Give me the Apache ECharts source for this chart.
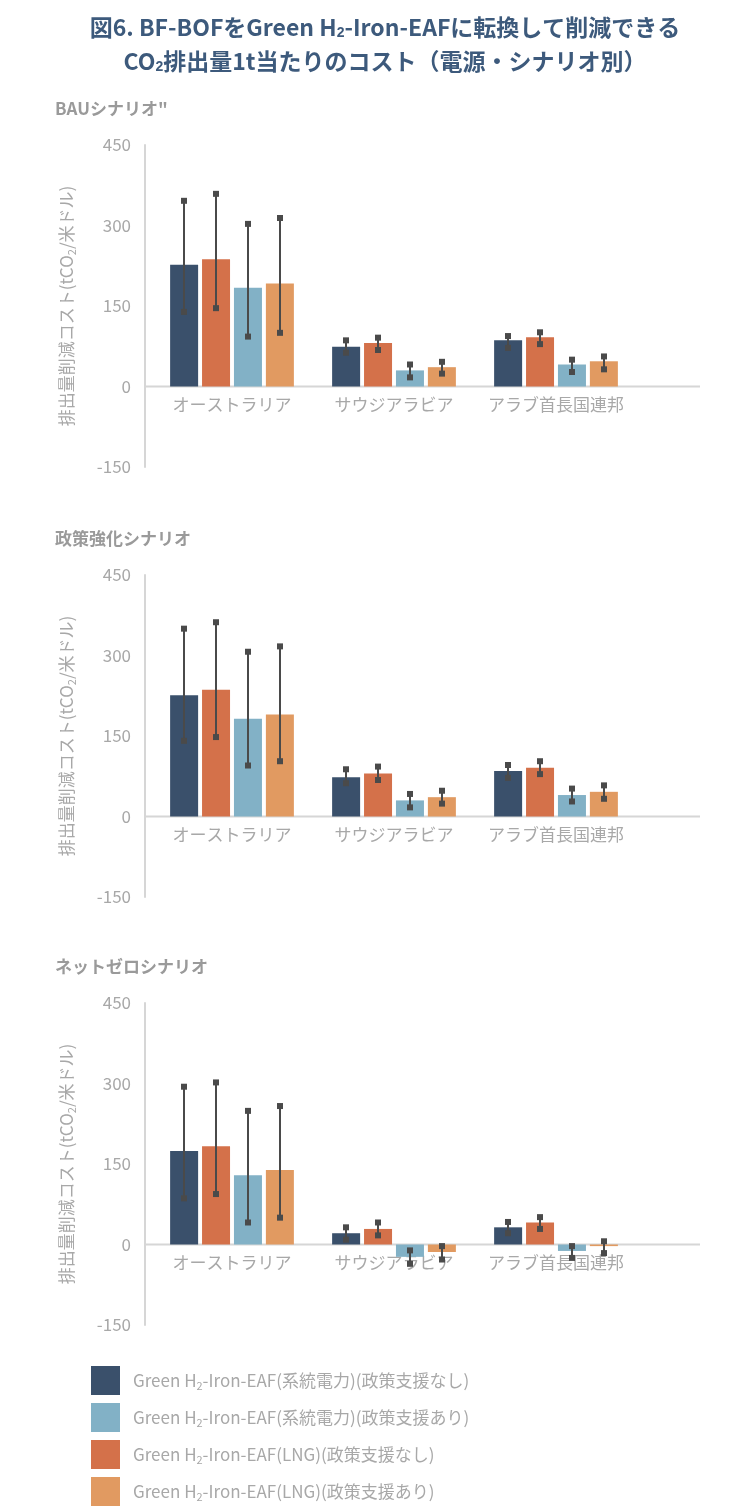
<!DOCTYPE html>
<html><head><meta charset="utf-8">
<script src="https://cdn.jsdelivr.net/npm/echarts@6/dist/echarts.min.js"></script>
<style>html,body{margin:0;background:#fff}#c{width:738px;height:1510px}</style>
</head><body><div id="c"></div>
<script>
const categories = ['オーストラリア', 'サウジアラビア', 'アラブ首長国連邦']
const scenarios = ['BAUシナリオ"', '政策強化シナリオ', 'ネットゼロシナリオ']
const yTicks = [-150, 0, 150, 300, 450]
const seriesNames = [
  '系統電力)(政策支援なし)', 'LNG)(政策支援なし)', '系統電力)(政策支援あり)', 'LNG)(政策支援あり)'
]
const colors = ['#3a506b', '#d4714a', '#82b1c6', '#e19a61']
// values[scenario][series][category]
const values = [
  [[227, 74, 86], [237, 81, 92], [184, 30, 41], [192, 36, 47]],
  [[226, 73, 85], [236, 80, 91], [182, 30, 40], [190, 36, 46]],
  [[174, 21, 32], [183, 29, 41], [129, -23, -12], [139, -14, -3]]
]
const highs = [
  [[346, 86, 94], [359, 91, 101], [303, 41, 50], [314, 46, 56]],
  [[350, 88, 96], [362, 93, 103], [307, 42, 52], [317, 48, 58]],
  [[294, 32, 42], [302, 41, 51], [249, -11, -3], [258, -3, 6]]
]
const lows = [
  [[139, 63, 72], [146, 68, 79], [93, 17, 27], [100, 24, 32]],
  [[141, 62, 72], [148, 68, 79], [95, 17, 28], [103, 24, 33]],
  [[86, 9, 21], [94, 17, 29], [41, -36, -25], [50, -28, -16]]
]

const gridTops = [145, 575, 1003]
const gridH = 322
const gray = '#a8a8a8'
const barW = 28, step = 32

const grid = [], xAxis = [], yAxis = [], series = [], graphic = []
scenarios.forEach((s, k) => {
  grid.push({ left: 151, right: 101, top: gridTops[k], height: gridH })
  xAxis.push({
    gridIndex: k, type: 'category', data: categories,
    axisLine: { show: false }, axisTick: { show: false }, axisLabel: { show: false }
  })
  yAxis.push({
    gridIndex: k, type: 'value', min: yTicks[0], max: yTicks[yTicks.length - 1], interval: 150, offset: 6,
    axisLine: { show: true, lineStyle: { color: '#d6d6d6', width: 2 } },
    splitLine: { show: false },
    axisLabel: { color: gray, fontSize: 17, margin: 14 },
    name: '排出量削減コスト(tCO{s|2}/米ドル)', nameLocation: 'middle', nameGap: 68, nameRotate: 90,
    nameTextStyle: { color: gray, fontSize: 17, rich: { s: { fontSize: 11, color: gray, padding: [10, 0, 0, 0] } } }
  })
  graphic.push({ type: 'text', left: 55, top: gridTops[k] - 45,
    style: { text: s, fill: '#9a9a9a', font: 'bold 17px "Noto Sans CJK JP"' } })
  seriesNames.forEach((n, i) => {
    series.push({
      name: n, type: 'bar', xAxisIndex: k, yAxisIndex: k,
      data: values[k][i], barWidth: barW, barGap: '14%',
      itemStyle: { color: colors[i] }
    })
  })
  // category labels just under the zero line
  series.push({
    type: 'custom', xAxisIndex: k, yAxisIndex: k, silent: true,
    data: categories.map((c, j) => [j, 0]),
    renderItem: (params, api) => {
      const p = api.coord([api.value(0), 0])
      return { type: 'text', x: p[0], y: p[1] + 10,
        style: { text: categories[params.dataIndex], fill: gray, font: '17px "Noto Sans CJK JP"', align: 'center', verticalAlign: 'top' } }
    }
  })
  seriesNames.forEach((n, i) => {
    series.push({
      type: 'custom', xAxisIndex: k, yAxisIndex: k, z: 5, silent: true,
      data: categories.map((c, j) => [j, lows[k][i][j], highs[k][i][j]]),
      renderItem: (params, api) => {
        const lo = api.coord([api.value(0), api.value(1)])
        const hi = api.coord([api.value(0), api.value(2)])
        const x = lo[0] + (i - 1.5) * step
        const st = { fill: '#4a4a4a' }
        return { type: 'group', children: [
          { type: 'line', shape: { x1: x, y1: lo[1], x2: x, y2: hi[1] }, style: { stroke: '#4a4a4a', lineWidth: 2 } },
          { type: 'rect', shape: { x: x - 3, y: lo[1] - 3, width: 6, height: 6 }, style: st },
          { type: 'rect', shape: { x: x - 3, y: hi[1] - 3, width: 6, height: 6 }, style: st }
        ] }
      }
    })
  })
})

graphic.push({ type: 'text', x: 385, y: 10,
  style: { text: '図6. BF-BOFをGreen H{s|2}-Iron-EAFに転換して削減できる\nCO{s|2}排出量1t当たりのコスト（電源・シナリオ別）',
    fill: '#3d5a7c', font: 'bold 23px "Noto Sans CJK JP"', align: 'center', lineHeight: 34,
    rich: { s: { fontSize: 14, fill: '#3d5a7c', fontWeight: 'bold', padding: [12, 0, 0, 0] } } } })

const chart = echarts.init(document.getElementById('c'))
chart.setOption({
  animation: false,
  textStyle: { fontFamily: '"Noto Sans CJK JP", "Noto Sans", sans-serif' },
  color: colors,
  grid, xAxis, yAxis, series, graphic,
  legend: {
    orient: 'vertical', left: 86, top: 1361, height: 160, itemWidth: 29, itemHeight: 29, itemGap: 8,
    icon: 'rect',
    data: [seriesNames[0], seriesNames[2], seriesNames[1], seriesNames[3]],
    formatter: n => 'Green H{s|2}-Iron-EAF(' + n,
    textStyle: { color: gray, fontSize: 17, padding: [0, 0, 0, 8],
      rich: { s: { fontSize: 11, color: gray, padding: [10, 0, 0, 0] } } }
  }
})

// zero baselines spanning past the plot, like the original
const zeroLines = scenarios.map((s, k) => {
  const y = chart.convertToPixel({ yAxisIndex: k }, 0)
  return { type: 'line', z: 1, shape: { x1: 145, y1: y, x2: 700, y2: y }, style: { stroke: '#d6d6d6', lineWidth: 2 } }
})
chart.setOption({ graphic: graphic.concat(zeroLines) })
</script></body></html>
